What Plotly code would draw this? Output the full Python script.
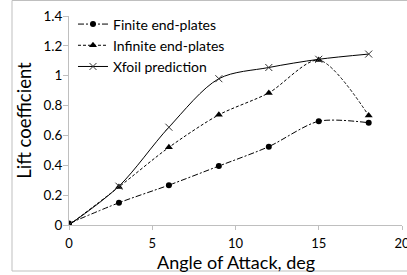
import plotly.graph_objects as go

angle = [0, 3, 6, 9, 12, 15, 18]
finite = [0.01, 0.149, 0.267, 0.395, 0.525, 0.695, 0.685]
infinite = [0.0, 0.255, 0.52, 0.738, 0.885, 1.105, 0.733]
xfoil = [0.0, 0.26, 0.655, 0.98, 1.055, 1.11, 1.145]

x_ticks = [0, 5, 10, 15, 20]
y_ticks = [0, 0.2, 0.4, 0.6, 0.8, 1, 1.2, 1.4]
y_tick_text = ["0", "0.2", "0.4", "0.6", "0.8", "1", "1.2", "1.4"]

FONT = "Lato, 'Open Sans', sans-serif"

fig = go.Figure()
fig.add_trace(go.Scatter(
    x=angle, y=finite, name="Finite end-plates", mode="lines+markers",
    line=dict(color="black", width=1, dash="6px,2px,2px,2px", shape="spline", smoothing=0.8),
    marker=dict(symbol="circle", size=6, color="black")))
fig.add_trace(go.Scatter(
    x=angle, y=infinite, name="Infinite end-plates", mode="lines+markers",
    line=dict(color="black", width=1, dash="3px,2px", shape="spline", smoothing=0.8),
    marker=dict(symbol="triangle-up", size=7, color="black")))
fig.add_trace(go.Scatter(
    x=angle, y=xfoil, name="Xfoil prediction", mode="lines+markers",
    line=dict(color="black", width=1, shape="spline", smoothing=0.9),
    marker=dict(symbol="x-thin", size=7, color="black", line=dict(color="#333", width=1))))

fig.update_layout(
    width=407, height=275,
    margin=dict(l=69, r=5, t=16, b=50, autoexpand=False),
    paper_bgcolor="white", plot_bgcolor="white",
    font=dict(family=FONT, color="black", size=13),
    showlegend=True,
    legend=dict(x=0.012, y=1.036, xanchor="left", yanchor="top",
                bgcolor="rgba(0,0,0,0)", font=dict(size=14, family=FONT),
                itemwidth=30, tracegroupgap=0),
    xaxis=dict(range=[0, 20], tickvals=x_ticks, ticks="outside", ticklen=4,
               tickcolor="#bfbfbf", showline=True, linecolor="#bfbfbf",
               showgrid=False, zeroline=False, ticklabeloverflow="allow",
               ticklabelstandoff=2,
               tickfont=dict(size=13, family=FONT, color="black")),
    yaxis=dict(range=[0, 1.4], tickvals=y_ticks, ticktext=y_tick_text, ticks="outside",
               ticklen=5, tickcolor="#bfbfbf", showline=True, linecolor="#bfbfbf",
               showgrid=False, zeroline=False, ticklabelstandoff=-2,
               tickfont=dict(size=13.5, family=FONT, color="black"),
               title=dict(text="Lift coefficient", font=dict(size=18.5, family=FONT), standoff=6)),
    annotations=[dict(text="Angle of Attack, deg", xref="paper", yref="paper",
                      x=0.5, y=(225 - 262) / 209, xanchor="center", yanchor="middle",
                      showarrow=False, font=dict(size=18, family=FONT, color="black"))],
    shapes=[dict(type="rect", xref="paper", yref="paper",
                 x0=(12 - 69) / 333, x1=(420 - 69) / 333,
                 y0=(225 - 271) / 209, y1=(225 - 0.5) / 209,
                 line=dict(color="#bfbfbf", width=1), layer="below")],
)

fig.write_html("out.html",
               config={"displayModeBar": False},
               post_script="document.body.style.margin='0';document.body.style.padding='0';")
